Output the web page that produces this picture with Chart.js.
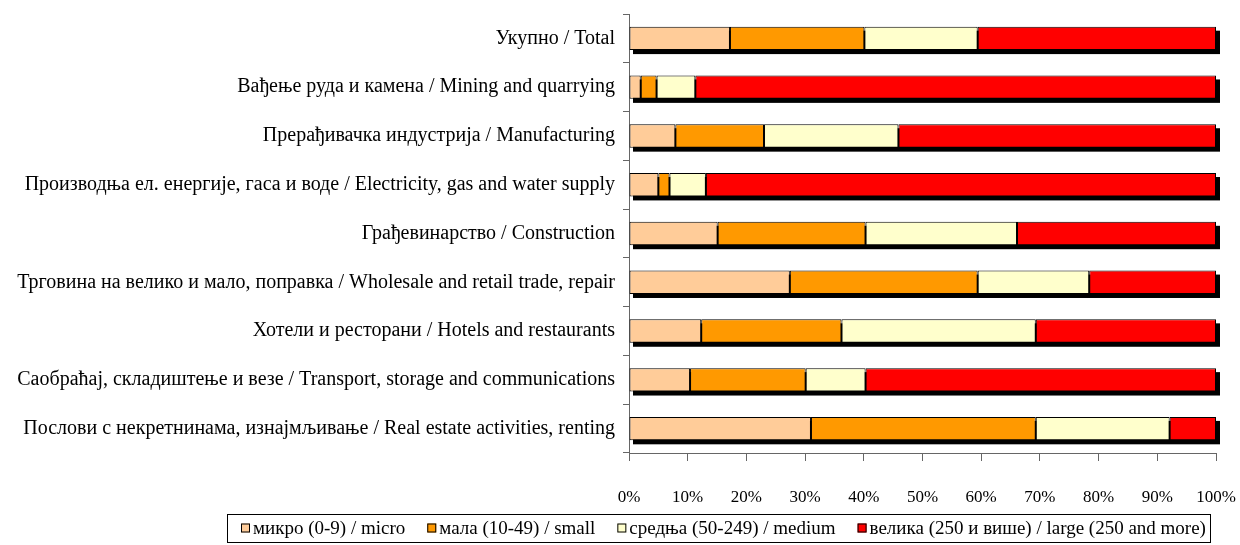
<!DOCTYPE html>
<html>
<head>
<meta charset="utf-8">
<script src="https://cdn.jsdelivr.net/npm/chart.js@4/dist/chart.umd.min.js"></script>
<style>
	body { margin: 0; background: #fff; }
	#canvas01 { display: block; }
</style>
</head>
<body>
<canvas id="canvas01" width="1240" height="545"></canvas>
<script>

var catArray = [
	'Укупно / Total',
	'Вађење руда и камена / Mining and quarrying',
	'Прерађивачка индустрија / Manufacturing',
	'Производња ел. енергије, гаса и воде / Electricity, gas and water supply',
	'Грађевинарство / Construction',
	'Трговина на велико и мало, поправка / Wholesale and retail trade, repair',
	'Хотели и ресторани / Hotels and restaurants',
	'Саобраћај, складиштење и везе / Transport, storage and communications',
	'Послови с некретнинама, изнајмљивање / Real estate activities, renting'
];

var microArray  = [17.2, 2.0, 7.9, 5.0, 15.1, 27.4, 12.3, 10.4, 31.0];
var smallArray  = [22.9, 2.7, 15.1, 1.9, 25.2, 32.0, 23.9, 19.7, 38.3];
var mediumArray = [19.3, 6.6, 22.9, 6.2, 25.8, 19.0, 33.1, 10.2, 22.8];
var largeArray  = [40.6, 88.7, 54.1, 86.9, 33.9, 21.6, 30.7, 59.7, 7.9];

var tickArray = [0, 10, 20, 30, 40, 50, 60, 70, 80, 90, 100];

var serieLabels = [
	'микро (0-9) / micro',
	'мала (10-49) / small',
	'средња (50-249) / medium',
	'велика (250 и више) / large (250 and more)'
];

const FONT = '"Liberation Serif", "Times New Roman", serif';

// black shadow behind every full bar
const bar_shadow = {
	id: 'bar_shadow',
	beforeDatasetsDraw(chart, args, options) {
		const { ctx, scales: { x } } = chart;
		const meta = chart.getDatasetMeta(0);
		const x0 = x.getPixelForValue(0);
		const x1 = x.getPixelForValue(100);

		ctx.save();
		ctx.fillStyle = '#000';
		meta.data.forEach(function (bar) {
			var h = bar.height;
			ctx.fillRect(x0 + options.dx, bar.y - h / 2 + options.dy, x1 - x0, h);
		});
		ctx.restore();
	}
};

// boxed legend at the bottom, as in the original
const legend_box = {
	id: 'legend_box',
	afterDraw(chart, args, options) {
		const ctx = chart.ctx;
		ctx.save();

		ctx.strokeStyle = '#000';
		ctx.lineWidth = 1;
		ctx.strokeRect(options.left + 0.5, options.top + 0.5, options.width, options.height);

		ctx.font = options.size + 'px ' + FONT;
		ctx.textBaseline = 'middle';
		ctx.fillStyle = '#000';

		var cy = options.top + options.height / 2 + 0.5;
		var xx = options.first;
		chart.data.datasets.forEach(function (ds) {
			ctx.fillStyle = ds.backgroundColor;
			ctx.fillRect(xx, cy - 5, 9, 9);
			ctx.strokeStyle = '#000';
			ctx.strokeRect(xx + 0.5, cy - 4.5, 8, 8);

			ctx.fillStyle = '#000';
			ctx.fillText(ds.label, xx + 12, cy + 1);
			xx += 12 + ctx.measureText(ds.label).width + options.gap;
		});

		ctx.restore();
	}
};

function GrafBarras() {
	var chartData = {
		labels: catArray,
		datasets: [{
			label: serieLabels[0],
			data: microArray,
			backgroundColor: '#FFCC99',
		},
		{
			label: serieLabels[1],
			data: smallArray,
			backgroundColor: '#FF9900',
		},
		{
			label: serieLabels[2],
			data: mediumArray,
			backgroundColor: '#FFFFCC',
		},
		{
			label: serieLabels[3],
			data: largeArray,
			backgroundColor: '#FF0000',
		}]
	};

	var config01 = {
		type: 'bar',
		data: chartData,
		options: {
			indexAxis: 'y',
			responsive: false,
			animation: false,
			datasets: {
				bar: {
					borderColor: '#000',
					borderWidth: 1,
					borderSkipped: false,
					categoryPercentage: 1,
					barPercentage: 0.48,
				}
			},
			layout: {
				padding: { left: 0, right: 24, top: 14, bottom: 0 }
			},
			plugins: {
				legend: { display: false },
				tooltip: { enabled: false },
				title: { display: false },
				bar_shadow: { dx: 4, dy: 4 },
				legend_box: { left: 227, top: 514, width: 983, height: 28, first: 241, gap: 22, size: 19 }
			},
			scales: {
				x: {
					stacked: true,
					min: 0,
					max: 100,
					afterBuildTicks: function (scale) {
						scale.ticks = tickArray.map(function (v) { return { value: v }; });
					},
					afterFit: function (scale) {
						scale.height = 545 - 453;
						scale.paddingLeft = 0;
						scale.paddingRight = 0;
					},
					ticks: {
						color: '#000',
						padding: 26,
						maxRotation: 0,
						autoSkip: false,
						font: { family: FONT, size: 17 },
						callback: function (val) { return val + '%'; }
					},
					grid: {
						drawOnChartArea: false,
						color: '#666',
						tickLength: 8,
					},
					border: { color: '#666' }
				},
				y: {
					stacked: true,
					afterFit: function (scale) {
						scale.width = 629;
						scale.paddingTop = 0;
						scale.paddingBottom = 0;
					},
					ticks: {
						color: '#000',
						padding: 8,
						autoSkip: false,
						font: { family: FONT, size: 20 }
					},
					grid: {
						offset: true,
						drawOnChartArea: false,
						color: '#666',
						tickLength: 6,
					},
					border: { color: '#666' }
				}
			}
		},
		plugins: [bar_shadow, legend_box]
	};

	var ctx01 = document.getElementById('canvas01').getContext('2d');
	return new Chart(ctx01, config01);
}

GrafBarras();

</script>
</body>
</html>
